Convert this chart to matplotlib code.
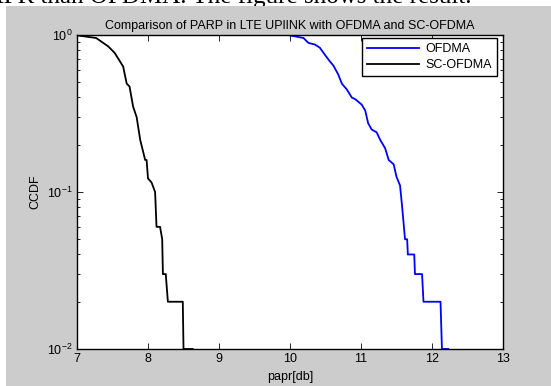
import matplotlib
matplotlib.use('Agg')
import matplotlib.pyplot as plt
from matplotlib.patches import Rectangle
from matplotlib.ticker import LogLocator, FixedLocator

plt.rcParams['font.family'] = ['Liberation Sans', 'DejaVu Sans']
plt.rcParams['mathtext.default'] = 'regular'

# CCDF curves
of_x = [9.97, 10.07, 10.19, 10.26, 10.35, 10.42, 10.49, 10.56, 10.61, 10.68, 10.73,
        10.80, 10.87, 10.92, 11.01, 11.06, 11.10, 11.15, 11.22, 11.27, 11.34, 11.39,
        11.46, 11.50, 11.55, 11.58, 11.62, 11.65, 11.66, 11.75, 11.76, 11.86, 11.88,
        12.12, 12.14, 12.23]
of_y = [1.0, 0.98, 0.957, 0.89, 0.87, 0.83, 0.75, 0.68, 0.64, 0.56, 0.49,
        0.45, 0.40, 0.39, 0.36, 0.33, 0.275, 0.25, 0.24, 0.215, 0.19, 0.16,
        0.15, 0.125, 0.11, 0.08, 0.05, 0.05, 0.04, 0.04, 0.03, 0.03, 0.02,
        0.02, 0.01, 0.01]

sc_x = [7.0, 7.27, 7.44, 7.53, 7.65, 7.70, 7.74, 7.79, 7.84, 7.89, 7.96, 7.98,
        8.0, 8.05, 8.10, 8.12, 8.17, 8.20, 8.21, 8.25, 8.28, 8.49, 8.50, 8.63]
sc_y = [0.995, 0.957, 0.846, 0.77, 0.63, 0.49, 0.47, 0.35, 0.30, 0.215, 0.16, 0.16,
        0.122, 0.115, 0.10, 0.06, 0.06, 0.05, 0.03, 0.03, 0.02, 0.02, 0.01, 0.01]

x_ticks = [7, 8, 9, 10, 11, 12, 13]

fig = plt.figure(figsize=(5.51, 3.86), dpi=100)
fig.patch.set_facecolor('white')
fig.patches.append(Rectangle((6 / 551, 0), 1, 1 - 6 / 386, transform=fig.transFigure,
                             facecolor='#cccccc', edgecolor='none', zorder=-10))

# surrounding document text, cut off at the top (gray panel hides its lower part)
fig.text(472 / 551, 1 - 3 / 386, 'PAPR than OFDMA. The figure shows the result.',
         ha='right', va='baseline', fontsize=18, family='Liberation Serif', zorder=-20)

ax = fig.add_axes([77 / 551, 37 / 386, 426 / 551, 314 / 386])
ax.semilogy(of_x, of_y, color='#0000ff', lw=1.3, label='OFDMA')
ax.semilogy(sc_x, sc_y, color='black', lw=1.3, label='SC-OFDMA')
ax.set_xlim(7, 13)
ax.set_ylim(0.01, 1)
ax.xaxis.set_major_locator(FixedLocator(x_ticks))
ax.yaxis.set_minor_locator(LogLocator(base=10, subs=range(2, 10)))
ax.tick_params(which='both', direction='in', top=True, right=True, labelsize=9)
ax.tick_params(which='major', length=4, width=0.6, pad=3)
ax.tick_params(which='minor', length=2, width=0.6)
ax.tick_params(axis='x', which='minor', bottom=False, top=False)
for s in ax.spines.values():
    s.set_linewidth(1.0)

ax.set_title('Comparison of PARP in LTE UPlINK with OFDMA and SC-OFDMA', fontsize=9, pad=4)
ax.set_xlabel('papr[db]', fontsize=9, labelpad=4)
ax.set_ylabel('CCDF', fontsize=9, labelpad=4)

leg = ax.legend(loc='upper right', bbox_to_anchor=(1 - 6 / 426, 1 - 3 / 314), fontsize=9,
                fancybox=False, framealpha=1, edgecolor='black', borderaxespad=0,
                handlelength=4.2, handletextpad=0.5, borderpad=0.4, labelspacing=0.35)
leg.get_frame().set_linewidth(1.0)

fig.savefig('out.png', dpi=100, facecolor=fig.get_facecolor())
